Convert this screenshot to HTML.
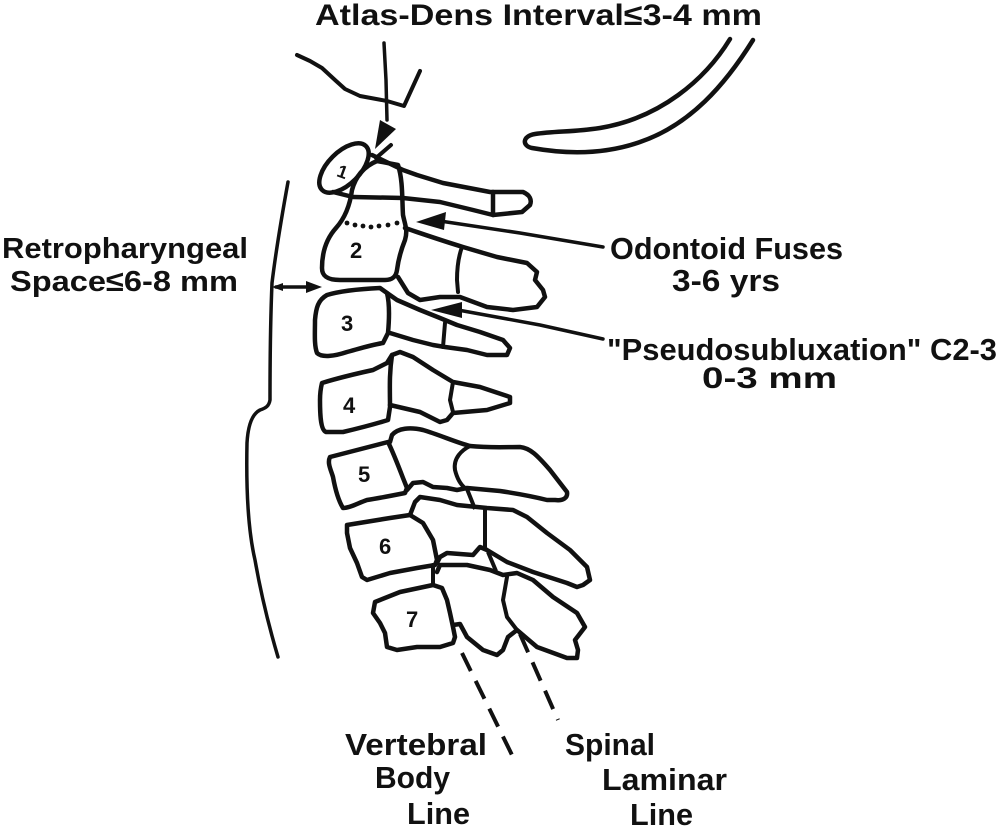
<!DOCTYPE html>
<html><head><meta charset="utf-8"><style>
html,body{margin:0;padding:0;background:#fff;}
svg{display:block;}
text{font-family:"Liberation Sans",sans-serif;font-weight:bold;fill:#111;}
</style></head><body>
<svg width="1000" height="830" viewBox="0 0 1000 830" xmlns="http://www.w3.org/2000/svg">
<g fill="none" stroke="#111" stroke-linecap="round" stroke-linejoin="round">
<!-- skull base line -->
<path stroke-width="4" d="M297,55 L310,61 L322,68 L335,80 L345,89 L360,96 L387,101 L404,106 L420,71"/>
<!-- occipital crescent -->
<path stroke-width="4.5" d="M730,39 C705,80 660,118 600,128 C575,132 555,131 535,134 C522,136 522,146 532,148 C560,153 600,156 640,142 C690,125 725,85 753,40"/>
<!-- title arrow -->
<path stroke-width="3.5" d="M384,43 L386,80 L387,120"/>
<!-- pharyngeal line -->
<path stroke-width="3.5" d="M288,182 C282,215 276,250 272,283 C270,330 270,370 270,400 C269,406 266,408 260,410 C252,414 248,425 247,443 C246,490 248,530 255,560 C262,600 270,630 278,657"/>
<!-- retro arrow shaft -->
<path stroke-width="3.5" d="M276,287 L310,287"/>

<!-- atlas -->
<ellipse cx="344" cy="168" rx="31" ry="16" transform="rotate(-45 344 168)" stroke-width="4.5"/>
<path stroke-width="4" d="M391,145 L376,158"/>
<!-- C1 posterior bar -->
<path stroke-width="4.5" d="M372,155 L403,170 L417,175 L443,183 L490,192 L523,192 C530,195 532,200 530,205 L522,212 L493,215 L473,210 L440,202 L403,198 L353,197 L333,192"/>
<path stroke-width="4.5" d="M493,192 L493,215"/>
<!-- dens + C2 body -->
<path stroke-width="4.5" d="M377,161 L398,165 C403,180 402,200 403,215 C405,225 408,230 405,240 C401,250 398,262 397,270 C396,277 392,280 385,280 L340,280 C327,280 322,276 322,268 C322,252 327,238 336,228 C345,218 350,205 352,190 C356,175 365,166 377,161 Z"/>
<!-- C2 posterior -->
<path stroke-width="4.5" d="M405,228 C420,233 440,240 463,247 L497,257 L527,263 L537,272 L535,280 L543,290 L545,297 L537,307 L513,310 L487,307 L460,297 L440,297 L420,300 L408,293 L403,285 L398,277"/>
<path stroke-width="4" d="M462,247 C458,258 457,268 457,280 L458,292"/>
<!-- odontoid leader -->
<path stroke-width="3.5" d="M440,221 L520,233 L603,247"/>
<!-- pseudo leader -->
<path stroke-width="3.5" d="M458,310 L540,325 L603,339"/>

<!-- C3 -->
<path stroke-width="4.5" d="M327,295 C340,291 360,289 380,288 L387,293 C390,305 389,322 388,333 L383,343 C370,345 355,350 347,352 C335,356 322,358 317,353 C314,345 315,333 315,320 C316,308 318,300 327,295 Z"/>
<path stroke-width="4.5" d="M387,293 L397,300 L420,310 L440,318 L457,325 L480,332 L503,340 L510,348 L507,355 L487,355 L467,350 L445,347 L433,345 L413,340 L390,333"/>
<path stroke-width="4" d="M445,323 L443,347"/>

<!-- C4 -->
<path stroke-width="4.5" d="M322,383 C335,379 350,375 373,370 L387,363 L392,355 C389,375 390,390 390,407 L388,420 C375,424 360,428 343,432 L326,432 C320,430 320,410 320,400 C320,392 321,387 322,383 Z"/>
<path stroke-width="4.5" d="M392,355 L400,352 L413,357 L433,370 L453,382 L480,387 L510,397 L510,403 L487,410 L453,413 L447,420 L440,422 L420,412 L390,405"/>
<path stroke-width="4" d="M453,382 L450,400 L453,412"/>

<!-- C5 -->
<path stroke-width="4.5" d="M330,457 C345,453 365,448 388,442 C393,452 398,465 403,478 L407,488 L405,493 C395,495 380,498 367,500 C358,503 350,508 343,508 C338,500 335,488 333,477 C331,470 327,463 330,457 Z"/>
<path stroke-width="4.5" d="M390,442 L392,435 C398,428 410,427 423,430 C440,435 455,442 470,446 C490,448 505,447 520,447 C530,448 537,455 550,470 L567,492 C568,498 563,501 555,500 L547,500 C535,497 520,494 500,491 L467,488 L457,490 L447,488 L433,487 L423,482 L413,483 L407,490"/>
<path stroke-width="4" d="M470,446 C462,450 453,458 455,470 C457,478 460,484 465,488"/>

<!-- C6 -->
<path stroke-width="4.5" d="M347,525 L390,518 L410,515 L423,523 L433,540 L437,560 L435,565 L417,568 L390,573 L367,580 L362,577 L357,563 L350,548 L347,533 Z"/>
<path stroke-width="4.5" d="M410,515 L415,502 L420,497 L440,500 L457,505 L477,507 L487,508 L513,510 L527,517 L547,533 L570,550 L587,567 L590,580 L583,585 L577,587 L567,583 L533,572 L507,562 L487,550 L480,547 L473,555 L447,553 L440,557 L437,563"/>
<path stroke-width="4" d="M485,510 L485,547"/>
<path stroke-width="4" d="M433,565 L433,585"/>

<!-- C7 -->
<path stroke-width="4.5" d="M375,602 L400,592 L433,585 L442,588 L447,600 L450,613 L453,627 L455,637 L453,643 L440,647 L417,647 L397,650 L387,647 L385,633 L380,623 L373,613 Z"/>
<path stroke-width="4.5" d="M437,572 L440,565 L467,565 L490,570 L503,575 L517,573 L533,580 L553,597 L577,613 L585,627 L575,640 L578,650 L577,658 L567,658 L537,647 L517,630 L508,637 L503,650 L497,655 L483,650 L467,637 L460,624 L453,625"/>
<path stroke-width="4" d="M507,577 L503,600 L507,617 L517,630"/>

<!-- dashed lines -->
<path stroke-width="4" stroke-linecap="butt" stroke-dasharray="20 11" d="M462,653 L512,755"/>
<path stroke-width="4" stroke-linecap="butt" stroke-dasharray="20 11" d="M520,634 L558,720"/>
<path stroke-width="4" stroke-linecap="butt" d="M467,489 L475,509"/>
<path stroke-width="4" stroke-linecap="butt" d="M488,552 L496,571"/>
</g>

<!-- dots -->
<g fill="#111">
<circle cx="347" cy="223" r="2.4"/><circle cx="355" cy="225" r="2.4"/><circle cx="363" cy="226" r="2.4"/><circle cx="371" cy="227" r="2.4"/><circle cx="379" cy="226" r="2.4"/><circle cx="388" cy="225" r="2.4"/><circle cx="397" cy="223" r="2.4"/>
<!-- arrowheads -->
<path d="M380,120 L396,129 L375,149 Z"/>
<path d="M416,222 L446,212 L444,230 Z"/>
<path d="M431,310 L462,302 L462,318 Z"/>
<path d="M322,287 L306,281 L306,293 Z"/>
<path d="M272,287 L283,283 L283,291 Z"/>
</g>

<!-- vertebra numbers -->
<text x="338" y="177" font-size="18" transform="rotate(20 340 170)">1</text>
<text x="350" y="258" font-size="22">2</text>
<text x="341" y="331" font-size="22">3</text>
<text x="343" y="413" font-size="22">4</text>
<text x="358" y="482" font-size="22">5</text>
<text x="379" y="554" font-size="22">6</text>
<text x="406" y="627" font-size="22">7</text>

<!-- labels -->
<text x="315" y="25" font-size="30" textLength="447" lengthAdjust="spacingAndGlyphs">Atlas-Dens Interval≤3-4 mm</text>
<text x="2" y="258" font-size="29" textLength="246" lengthAdjust="spacingAndGlyphs">Retropharyngeal</text>
<text x="10" y="291" font-size="29" textLength="228" lengthAdjust="spacingAndGlyphs">Space≤6-8 mm</text>
<text x="610" y="259" font-size="31" textLength="233" lengthAdjust="spacingAndGlyphs">Odontoid Fuses</text>
<text x="672" y="291" font-size="31" textLength="108" lengthAdjust="spacingAndGlyphs">3-6 yrs</text>
<text x="607" y="360" font-size="31" textLength="390" lengthAdjust="spacingAndGlyphs">"Pseudosubluxation" C2-3</text>
<text x="702" y="388" font-size="30" textLength="135" lengthAdjust="spacingAndGlyphs">0-3 mm</text>
<text x="345" y="755" font-size="31" textLength="142" lengthAdjust="spacingAndGlyphs">Vertebral</text>
<text x="375" y="788" font-size="31" textLength="75" lengthAdjust="spacingAndGlyphs">Body</text>
<text x="407" y="824" font-size="31" textLength="63" lengthAdjust="spacingAndGlyphs">Line</text>
<text x="565" y="755" font-size="31" textLength="90" lengthAdjust="spacingAndGlyphs">Spinal</text>
<text x="602" y="790" font-size="31" textLength="125" lengthAdjust="spacingAndGlyphs">Laminar</text>
<text x="630" y="825" font-size="31" textLength="63" lengthAdjust="spacingAndGlyphs">Line</text>
</svg>
</body></html>
